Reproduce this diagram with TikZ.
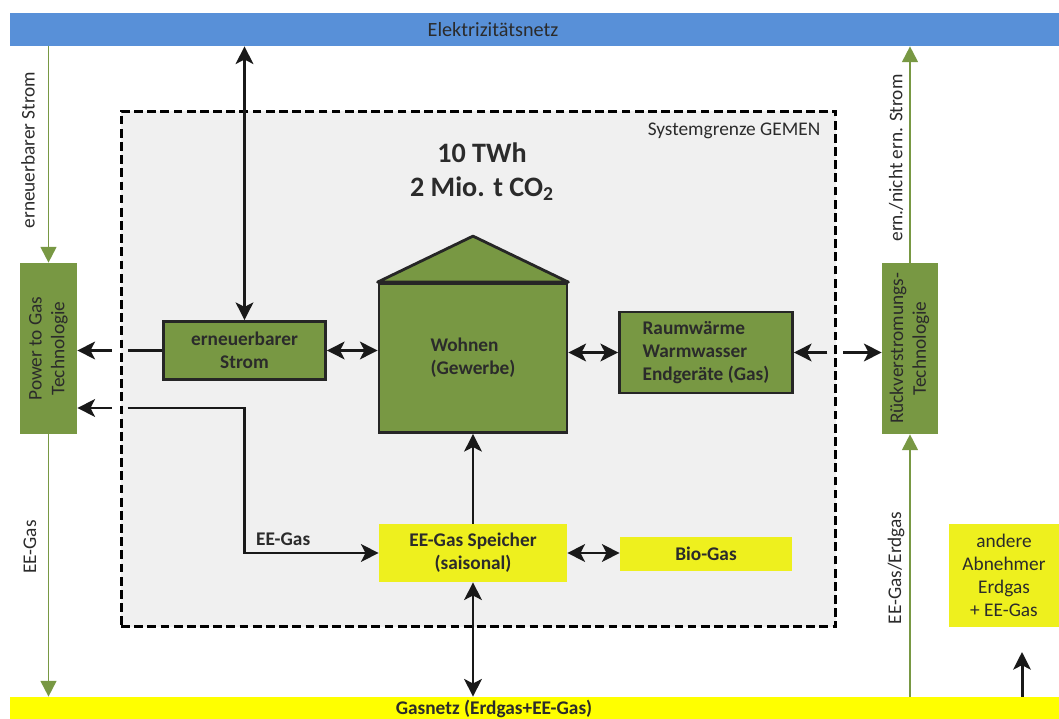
\documentclass[tikz,border=0pt]{standalone}
\usepackage{fontspec}
\setmainfont{Carlito}
\usetikzlibrary{arrows.meta, positioning}

\definecolor{oliv}{HTML}{789843}
\definecolor{netzblau}{HTML}{5890D8}
\definecolor{gasgelb}{HTML}{FFFF00}
\definecolor{boxgelb}{HTML}{EEF01E}
\definecolor{grenzgrau}{HTML}{F0F0F0}
\definecolor{schrift}{HTML}{2B2B2B}

\begin{document}
\begin{tikzpicture}[x=0.02cm, y=-0.02cm,
		>={Stealth[length=10pt, width=10pt, inset=2.5pt]},
		txt/.style={font=\fontsize{11}{13}\selectfont, text=schrift},
		txtb/.style={font=\fontsize{11}{13}\selectfont\bfseries, text=schrift},
		gbox/.style={txtb, fill=oliv, draw=black!85, line width=1.6pt},
		tbox/.style={txt, fill=oliv, minimum width=1.14cm, minimum height=3.42cm, inner sep=0pt},
		ybox/.style={txtb, fill=boxgelb, inner sep=0pt, align=center},
		fluss/.style={draw=black!90, line width=1.7pt},
		gfluss/.style={draw=oliv, line width=1.1pt, -{Triangle[length=9pt, width=9pt]}},
		seite/.style={txt, rotate=90}]
		
		\useasboundingbox (0,0) rectangle (1059,719);
		
		% --- SYSTEMGRENZE ---
		\node[draw=black, line width=1.7pt, dash pattern=on 5pt off 2.5pt, fill=grenzgrau,
		minimum width=14.3cm, minimum height=10.32cm, inner sep=0pt] (sys) at (478.5,369) {};
		\node[txt] (sysname) at (734,131) {Systemgrenze GEMEN};
		\node[txtb, font=\fontsize{16}{19}\selectfont\bfseries, align=center] (kennz) at (482,172)
		{10 TWh\\2 Mio. t CO\textsubscript{2}};
		
		% --- NETZE (ARRIBA Y ABAJO) ---
		\node[fill=netzblau, minimum width=20.98cm, minimum height=0.66cm, inner sep=0pt] (enetz) at (534.5,29.5) {};
		\node[txt, font=\fontsize{11.5}{13}\selectfont] (enetzname) at (493,30) {Elektrizitätsnetz};
		\node[fill=gasgelb, minimum width=20.98cm, minimum height=0.44cm, inner sep=0pt] (gnetz) at (534.5,708) {};
		\node[txtb] (gnetzname) at (494,709) {Gasnetz (Erdgas+EE-Gas)};
		
		% --- TECNOLOGÍAS A LOS LADOS ---
		\node[tbox] (p2g) at (48.5,348.5) {\rotatebox{90}{\begin{tabular}{@{}c@{}}Power to Gas\\Technologie\end{tabular}}};
		\node[tbox, minimum width=1.12cm] (rueck) at (910,348.5) {\rotatebox{90}{\begin{tabular}{@{}c@{}}Rückverstromungs-\\Technologie\end{tabular}}};
		
		% --- CAJAS DENTRO DEL SISTEMA ---
		\node[gbox, align=center, minimum width=3.24cm, minimum height=1.16cm] (strom) at (244.5,350.5) {erneuerbarer\\Strom};
		\node[gbox, align=left, minimum width=3.76cm, minimum height=2.98cm] (wohnen) at (473,358) {Wohnen\\(Gewerbe)};
		\draw[fill=oliv, draw=black!85, line width=1.6pt, line join=round]
		(wohnen.north west) -- ([yshift=0.92cm]wohnen.north) -- (wohnen.north east) -- cycle; % Dach
		\node[gbox, align=left, minimum width=3.46cm, minimum height=1.62cm] (raum) at (706,352.5) {Raumwärme\\Warmwasser\\Endgeräte (Gas)};
		\node[ybox, minimum width=3.76cm, minimum height=1.16cm] (speicher) at (473,553) {EE-Gas Speicher\\(saisonal)};
		\node[ybox, minimum width=3.44cm, minimum height=0.68cm] (biogas) at (706,554) {Bio-Gas};
		\node[ybox, txt, minimum width=2.2cm, minimum height=2.06cm] (andere) at (1004,575.5) {andere\\Abnehmer\\Erdgas\\+ EE-Gas};
		
		% --- FLUJOS VERDES (REDES <-> TECNOLOGÍAS) ---
		\draw[gfluss] (p2g |- enetz.south) -- (p2g.north);
		\draw[gfluss] (p2g.south) -- (p2g |- gnetz.north);
		\draw[gfluss] (rueck.north) -- (rueck |- enetz.south);
		\draw[gfluss] (rueck |- gnetz.north) -- (rueck.south);
		\node[seite] (lbl1) at (28,150) {erneuerbarer Strom};
		\node[seite] (lbl2) at (30,547) {EE-Gas};
		\node[seite] (lbl3) at (896,158) {ern./nicht ern. Strom};
		\node[seite] (lbl4) at (896,568) {EE-Gas/Erdgas};
		
		% --- FLUJOS NEGROS ---
		\draw[fluss, <->] (strom |- enetz.south) -- (strom.north);
		\draw[fluss] (strom.west) -- ([xshift=0.16cm]sys.west |- strom.west); % se corta en la frontera
		\draw[fluss, ->] ([xshift=-0.16cm]sys.west |- strom.west) -- (p2g.east |- strom.west);
		\coordinate (knick) at (244.5,408);
		\draw[fluss, ->] ([xshift=-0.16cm]sys.west |- knick) -- (p2g.east |- knick);
		\draw[fluss, ->] ([xshift=0.16cm]sys.west |- knick) -- (knick) |- (speicher.west)
		node[pos=0.5, anchor=south west, txtb, xshift=2.5pt] (eegas) {EE-Gas};
		\draw[fluss, <->] (strom.east) -- (strom.east -| wohnen.west);
		\draw[fluss, <->] (raum.west -| wohnen.east) -- (raum.west);
		\draw[fluss, ->] ([xshift=-0.2cm]sys.east |- raum.east) -- (raum.east);
		\draw[fluss, ->] ([xshift=0.12cm]sys.east |- raum.east) -- (rueck.west |- raum.east);
		\draw[fluss, ->] (speicher.north) -- (wohnen.south);
		\draw[fluss, <->] (speicher.east) -- (biogas.west |- speicher.east);
		\draw[fluss, <->] (speicher.south) -- (speicher |- gnetz.north);
		\coordinate (abn) at (1022,652);
		\draw[fluss, ->] (abn |- gnetz.north) -- (abn);
		
	\end{tikzpicture}
\end{document}
